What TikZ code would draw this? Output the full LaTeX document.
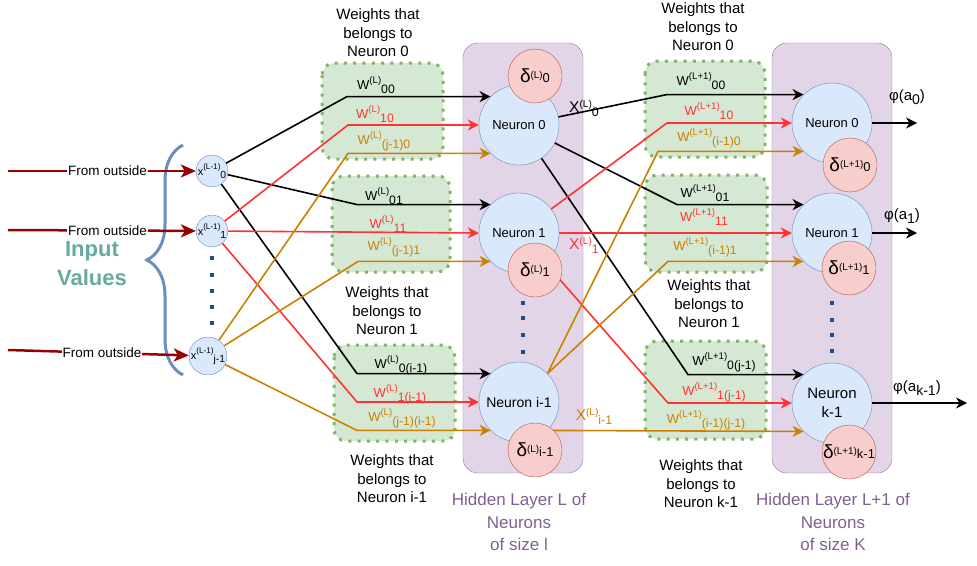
\documentclass[tikz,border=0pt]{standalone}
\usepackage{fontspec}
\setmainfont{Liberation Sans}
\usepackage{graphicx}
\usetikzlibrary{calc, positioning, arrows.meta, decorations.pathreplacing}
\definecolor{nfill}{HTML}{DAE8FC}
\definecolor{nline}{HTML}{6C8EBF}
\definecolor{dfill}{HTML}{F8CECC}
\definecolor{dline}{HTML}{B85450}
\definecolor{wfill}{HTML}{D5E8D4}
\definecolor{wline}{HTML}{82B366}
\definecolor{lfill}{HTML}{E1D5E7}
\definecolor{lline}{HTML}{9673A6}
\definecolor{cred}{HTML}{FF3333}
\definecolor{corg}{HTML}{CC8000}
\definecolor{dkred}{HTML}{990000}
\definecolor{inval}{HTML}{67AB9F}
\definecolor{capc}{HTML}{806090}
\definecolor{dotc}{HTML}{1F4E8F}
\newcommand{\hi}[2][.74]{\raisebox{.5em}{\scalebox{#1}{#2}}}
\newcommand{\lo}[2][.94]{\raisebox{-.28em}{\scalebox{#1}{#2}}}
\newcommand{\dl}[2]{δ\raisebox{.25em}{\scalebox{.52}{#1}}\scalebox{.68}{#2}}
\newcommand{\xl}[2]{X\raisebox{.35em}{\scalebox{.65}{#1}}\raisebox{-.22em}{\scalebox{.8}{#2}}}
\tikzstyle{inp}=[draw=nline, fill=nfill, shape=circle, inner sep=0pt, minimum size=28pt, font=\fontsize{11}{11}\selectfont]
\tikzstyle{neu}=[draw=nline, fill=nfill, shape=circle, inner sep=0pt, minimum size=80pt, font=\fontsize{13}{16}\selectfont, align=center]
\tikzstyle{dnode}=[draw=dline, fill=dfill, shape=circle, inner sep=0pt, minimum size=54pt, font=\fontsize{19}{19}\selectfont]
\tikzstyle{wbox}=[draw=wline, fill=wfill, line width=3pt, dash pattern=on 3pt off 6.3pt, rounded corners=12pt]
\tikzstyle{layerbox}=[draw=lline, fill=lfill, rounded corners=15pt]
\tikzstyle{wlab}=[inner sep=0pt, font=\fontsize{13}{14}\selectfont]
\tikzstyle{wcap}=[align=center, font=\fontsize{15}{18.5}\selectfont]
\tikzstyle{lcap}=[align=center, text=capc, font=\fontsize{17}{22.5}\selectfont]
\tikzstyle{sq}=[fill=dotc, shape=rectangle, inner sep=0pt, minimum size=4pt]
\tikzstyle{wire}=[line width=1.6pt, ->]
\tikzstyle{inarr}=[draw=dkred, line width=2.5pt, -{Stealth[length=15pt, width=13pt, inset=4pt]}]
\tikzset{>={Stealth[length=11pt, width=11pt, inset=3.5pt]}}

\begin{document}
\begin{tikzpicture}[x=1pt, y=-1pt]
\useasboundingbox (0,0) rectangle (977,565);

% layers and weight groups
\draw[layerbox] (463,43) rectangle (583,473);
\draw[layerbox] (772,43) rectangle (892,473);
\draw[wbox] (322,63) rectangle (443,159);
\draw[wbox] (332,176) rectangle (450,272);
\draw[wbox] (334,345) rectangle (455,441);
\draw[wbox] (645,61) rectangle (765,157);
\draw[wbox] (645,175) rectangle (767,272);
\draw[wbox] (645,341) rectangle (766,439);

\node[wcap] (c0) at (378,33) {Weights that\\belongs to\\Neuron 0};
\node[wcap] (c1) at (387,311) {Weights that\\belongs to\\Neuron 1};
\node[wcap] (c2) at (392,479) {Weights that\\belongs to\\Neuron i-1};
\node[wcap] (c3) at (703,27) {Weights that\\belongs to\\Neuron 0};
\node[wcap] (c4) at (709,304) {Weights that\\belongs to\\Neuron 1};
\node[wcap] (c5) at (701,484) {Weights that\\belongs to\\Neuron k-1};
\node[lcap] (h0) at (519,522) {Hidden Layer L of\\Neurons\\of size l};
\node[lcap] (h1) at (833,522) {Hidden Layer L+1 of\\Neurons\\of size K};

% inputs
\node[inp] (x0) at (212,171) {x\hi{(L-1)}\lo{0}};
\node[inp] (x1) at (212,231) {x\hi{(L-1)}\lo{1}};
\node[inp, minimum size=38pt] (xj) at (208,356) {x\hi{(L-1)}\lo{j-1}};
\foreach \y in {258,275,291,307,323} \node[sq] at (212,\y) {};

\node[align=center, text=inval, font=\fontsize{22}{29}\selectfont\bfseries] (iv) at (92,264) {Input\\Values};
\draw[nline, line width=3pt, decorate, decoration={brace, amplitude=36pt}] (183,375) -- (183,145);

\coordinate (s0) at (8,171);
\coordinate (s1) at (8,230);
\coordinate (s2) at (8,350);
\draw[inarr] (s0) -- node[pos=.53, fill=white, inner sep=1pt, font=\fontsize{13.5}{14}\selectfont] {From outside} (x0);
\draw[inarr] (s1) -- node[pos=.53, fill=white, inner sep=1pt, font=\fontsize{13.5}{14}\selectfont] {From outside} (x1);
\draw[inarr] (s2) -- node[pos=.52, fill=white, inner sep=1pt, font=\fontsize{13.5}{14}\selectfont] {From outside} (xj);

% hidden layer L
\node[neu] (n0) at (519,125) {Neuron 0};
\node[neu] (n1) at (519,233) {Neuron 1};
\node[neu, font=\fontsize{14}{16}\selectfont] (ni) at (519,402) {Neuron i-1};
\foreach \y in {303,318,335,352} \node[sq] at (523,\y) {};

% hidden layer L+1
\node[neu] (m0) at (832,123) {Neuron 0};
\node[neu] (m1) at (832,233) {Neuron 1};
\node[neu, font=\fontsize{15}{19}\selectfont] (mk) at (832,403) {Neuron\\k-1};
\foreach \y in {303,320,335,351} \node[sq] at (832,\y) {};

% weights into layer L
\draw[wire] (x0) -- (347,0 |- n0.135) -- (n0.135);
\draw[wire] (x0) -- (357,0 |- n1.135) -- (n1.135);
\draw[wire] (x0) -- (357,0 |- ni.135) -- (ni.135);
\draw[wire, cred] (x1) -- (348,0 |- n0.west) -- (n0.west);
\draw[wire, cred] (x1) -- (n1.west);
\draw[wire, cred] (x1) -- (357,0 |- ni.west) -- (ni.west);
\draw[wire, corg] (xj) -- (348,0 |- n0.225) -- (n0.225);
\draw[wire, corg] (xj) -- (358,0 |- n1.225) -- (n1.225);
\draw[wire, corg] (xj) -- (357,0 |- ni.225) -- (ni.225);

% weights into layer L+1
\draw[wire] (n0) -- (667,0 |- m0.135) -- (m0.135);
\draw[wire] (n0) -- (677,0 |- m1.135) -- (m1.135);
\draw[wire] (n0) -- (688,0 |- mk.135) -- (mk.135);
\draw[wire, cred] (n1) -- (667,0 |- m0.west) -- (m0.west);
\draw[wire, cred] (n1.east) -- (m1.west);
\draw[wire, cred] (n1) -- (668,0 |- mk.west) -- (mk.west);
\draw[wire, corg] (ni.45) -- (658,0 |- m0.225) -- (m0.225);
\draw[wire, corg] (ni.45) -- (668,0 |- m1.225) -- (m1.225);
\draw[wire, corg] (ni.-45) -- (mk.225);

% outputs
\coordinate (o0) at (917,123);
\coordinate (o1) at (917,233);
\coordinate (ok) at (967,403);
\draw[wire] (m0) -- (o0);
\draw[wire] (m1) -- (o1);
\draw[wire] (mk) -- (ok);
\node[font=\fontsize{15}{15}\selectfont] (p0) at (907,97) {φ(a\lo{0})};
\node[font=\fontsize{15}{15}\selectfont] (p1) at (902,216) {φ(a\lo{1})};
\node[font=\fontsize{15}{15}\selectfont] (pk) at (917,388) {φ(a\lo{k-1})};

% deltas
\node[dnode] (d0) at (535,76) {\dl{(L)}{0}};
\node[dnode] (d1) at (535,270) {\dl{(L)}{1}};
\node[dnode] (di) at (535,450) {\dl{(L)}{i-1}};
\node[dnode] (e0) at (850,165) {\dl{(L+1)}{0}};
\node[dnode] (e1) at (849,268) {\dl{(L+1)}{1}};
\node[dnode] (ek) at (849,452) {\dl{(L+1)}{k-1}};

% labels
\node[font=\fontsize{15.5}{16}\selectfont] (l0) at (584,108) {\xl{(L)}{0}};
\node[text=cred, font=\fontsize{15.5}{16}\selectfont] (l1) at (584,245) {\xl{(L)}{1}};
\node[text=corg, font=\fontsize{15.5}{16}\selectfont] (l2) at (594,416) {\xl{(L)}{i-1}};

\node[wlab] at (376,85) {W\hi{(L)}\lo{00}};
\node[wlab, text=cred] at (375,114) {W\hi{(L)}\lo{10}};
\node[wlab, text=corg] at (384,141) {W\hi{(L)}\lo{(j-1)0}};
\node[wlab] at (384,196) {W\hi{(L)}\lo{01}};
\node[wlab, text=cred] at (388,224) {W\hi{(L)}\lo{11}};
\node[wlab, text=corg] at (394,247) {W\hi{(L)}\lo{(j-1)1}};
\node[wlab] at (401,365) {W\hi{(L)}\lo{0(i-1)}};
\node[wlab, text=cred] at (400,394) {W\hi{(L)}\lo{1(i-1)}};
\node[wlab, text=corg] at (402,418) {W\hi{(L)}\lo{(j-1)(i-1)}};
\node[wlab] at (701,81) {W\hi{(L+1)}\lo{00}};
\node[wlab, text=cred] at (709,111) {W\hi{(L+1)}\lo{10}};
\node[wlab, text=corg] at (709,138) {W\hi{(L+1)}\lo{(i-1)0}};
\node[wlab] at (705,193) {W\hi{(L+1)}\lo{01}};
\node[wlab, text=cred] at (704,217) {W\hi{(L+1)}\lo{11}};
\node[wlab, text=corg] at (705,247) {W\hi{(L+1)}\lo{(i-1)1}};
\node[wlab] at (724,362) {W\hi{(L+1)}\lo{0(j-1)}};
\node[wlab, text=cred] at (714,392) {W\hi{(L+1)}\lo{1(j-1)}};
\node[wlab, text=corg] at (706,420) {W\hi{(L+1)}\lo{(i-1)(j-1)}};
\end{tikzpicture}
\end{document}
